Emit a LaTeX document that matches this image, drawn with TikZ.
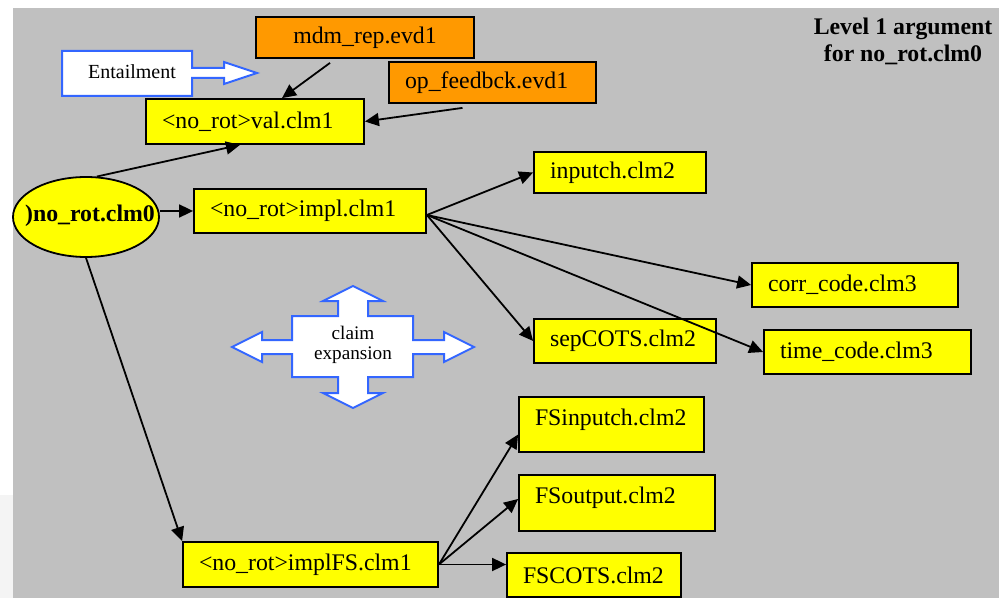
\documentclass[tikz,border=0pt]{standalone}
\usepackage{fontspec}
\setmainfont{Liberation Serif}
\usetikzlibrary{shapes.geometric,arrows.meta,calc}
\definecolor{bggrey}{HTML}{C0C0C0}
\definecolor{clmyellow}{HTML}{FFFF00}
\definecolor{evdorange}{HTML}{FF9900}
\definecolor{outlineblue}{HTML}{3366FF}
\definecolor{stripgrey}{HTML}{F4F4F4}

\begin{document}
\begin{tikzpicture}[x=0.5pt,y=-0.5pt,
  box/.style={draw=black, line width=0.9pt, inner xsep=8pt, inner ysep=0pt,
    align=left, font=\fontsize{11.9}{14}\selectfont},
  clm/.style={box, fill=clmyellow},
  evd/.style={box, fill=evdorange},
  link/.style={draw=black, line width=0.9pt, -{Triangle[length=7pt,width=6.5pt]}},
  shapeline/.style={draw=outlineblue, fill=white, line width=1pt, line join=miter},
  ]
% canvas
\useasboundingbox (0,0) rectangle (999,598);
\fill[white] (0,0) rectangle (999,598);
\fill[bggrey] (13,8) rectangle (999,598);
\fill[stripgrey] (0,495) rectangle (13,598);

% legend shapes
\draw[shapeline] (62,51) -- (192,51) -- (192,68) -- (224,68) -- (224,62) -- (257,73)
  -- (224,84) -- (224,78) -- (192,78) -- (192,96) -- (62,96) -- cycle;
\node[font=\fontsize{10}{12}\selectfont, inner sep=0pt] (entail) at (132,72) {Entailment};

\draw[shapeline] (353,286) -- (383,301) -- (368,301) -- (368,316) -- (413,316) -- (413,340)
  -- (444,340) -- (444,332) -- (474,347) -- (444,362) -- (444,354) -- (413,354)
  -- (413,377) -- (368,377) -- (368,393) -- (383,393) -- (353,408) -- (323,393)
  -- (338,393) -- (338,377) -- (292,377) -- (292,354) -- (262,354) -- (262,362)
  -- (232,347) -- (262,332) -- (262,340) -- (292,340) -- (292,316) -- (338,316)
  -- (338,301) -- (323,301) -- cycle;
\node[font=\fontsize{9.6}{10}\selectfont, align=center, inner sep=0pt] (expand) at (353,345) {claim\\expansion};

% title
\node[font=\bfseries\fontsize{11.9}{13.5}\selectfont, align=center, inner sep=0pt] (title) at (903,41) {Level 1 argument\\for no\_rot.clm0};

% root claim
\node[ellipse, draw=black, line width=0.9pt, fill=clmyellow, minimum width=73pt,
  minimum height=40pt, inner sep=0pt] (root) at (86,217) {};
\node[font=\bfseries\fontsize{11.9}{14}\selectfont, inner sep=0pt] (rootlabel) at (90,216) {)no\_rot.clm0};

% evidence
\node[evd, align=center, minimum width=109pt, text width=93pt, minimum height=20.5pt] (mdm) at (365,37.5) {mdm\_rep.evd1};
\node[evd, minimum width=103.5pt, text width=87.5pt, minimum height=20.5pt] (op) at (492.5,82.5) {op\_feedbck.evd1};

% level 1 claims
\node[clm, minimum width=109pt, text width=93pt, minimum height=22.5pt] (val) at (255,121.5) {<no\_rot>val.clm1};
\node[clm, minimum width=116pt, text width=100pt, minimum height=22pt] (impl) at (310,211) {<no\_rot>impl.clm1};
\node[clm, minimum width=127.5pt, text width=111.5pt, minimum height=22.5pt] (implFS) at (310.5,564.5) {<no\_rot>implFS.clm1};

% level 2/3 claims
\node[clm, minimum width=86pt, text width=70pt, minimum height=20.5pt] (inputch) at (620,172.5) {inputch.clm2};
\node[clm, minimum width=103pt, text width=87pt, minimum height=22pt] (corr) at (855,285) {corr\_code.clm3};
\node[clm, minimum width=91pt, text width=75pt, minimum height=22pt] (sepcots) at (625,341) {sepCOTS.clm2};
\node[clm, minimum width=103.5pt, text width=87.5pt, minimum height=22pt] (timecode) at (867.5,352) {time\_code.clm3};
\node[clm, minimum width=92.5pt, text width=76.5pt, minimum height=27.5pt, text depth=7.5pt] (fsin) at (611.5,424.5) {FSinputch.clm2};
\node[clm, minimum width=98pt, text width=82pt, minimum height=28pt, text depth=7.5pt] (fsout) at (617,503) {FSoutput.clm2};
\node[clm, minimum width=87pt, text width=71pt, minimum height=22pt] (fscots) at (594,575) {FSCOTS.clm2};

% connectors
\draw[link] (root.75) -- ([xshift=-7.5pt]val.south);
\draw[link] ([xshift=-17.5pt,yshift=-2pt]mdm.south) -- ([xshift=13.5pt]val.north);
\draw[link] ([xshift=-15pt,yshift=-2pt]op.south) -- (val.east);
\draw[link] (root.east |- impl.west) -- (impl.west);
\draw[link] ([yshift=-2pt]impl.east) -- (inputch.west);
\draw[link] ([yshift=-2pt]impl.east) -- (corr.west);
\draw[link] ([yshift=-2pt]impl.east) -- (sepcots.west);
\draw[link] ([yshift=-2pt]impl.east) -- (timecode.west);
\draw[link] (root.south) -- (implFS.north west);
\draw[link] (implFS.east) -- ([yshift=-5pt]fsin.west);
\draw[link] (implFS.east) -- ([yshift=2pt]fsout.west);
\draw[link] (implFS.east) -- (implFS.east -| fscots.west);
\end{tikzpicture}
\end{document}
